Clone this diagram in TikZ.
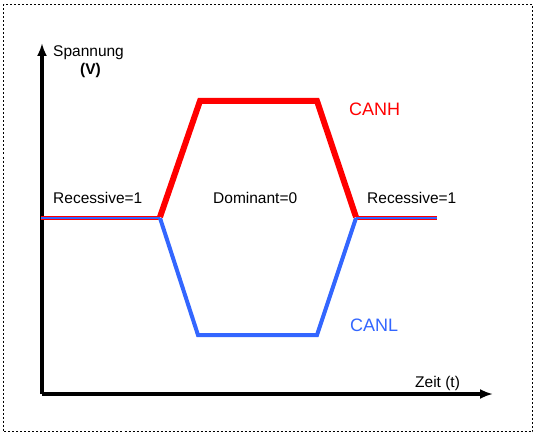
\documentclass[tikz,border=0pt]{standalone}
\usepackage{fontspec}
\setmainfont{Liberation Sans}
\usetikzlibrary{arrows.meta}
\definecolor{canred}{RGB}{255,0,0}
\definecolor{canblue}{RGB}{51,102,255}
\tikzset{
  lbl/.style={anchor=base west,inner sep=0pt,font=\fontsize{15.5}{18}\selectfont},
  biglbl/.style={anchor=base west,inner sep=0pt,font=\fontsize{18}{21}\selectfont},
  axis/.style={line width=3.2pt,-{Latex[length=13pt,width=10pt]}},
  high/.style={canred,line width=6pt,line join=miter},
  low/.style={canblue,line width=4pt,line join=miter},
}
\begin{document}
\begin{tikzpicture}[x=1pt,y=-1pt]
\useasboundingbox (0,0) rectangle (536,436);
\draw[dash pattern=on 2pt off 2pt,line width=1pt] (3.5,4.5) rectangle (532.5,431.5);
% axes
\coordinate (O) at (42,394);
\coordinate (ytip) at (42,43);
\coordinate (xtip) at (493,394);
\draw[axis] (O) -- (ytip);
\draw[axis] (O) -- (xtip);
% signal coordinates
\coordinate (L0) at (41,218);
\coordinate (L1) at (160,218);
\coordinate (R1) at (356,218);
\coordinate (R0) at (437,218);
\coordinate (H1) at (200,101);
\coordinate (H2) at (317,101);
\coordinate (B1) at (198,335);
\coordinate (B2) at (317,335);
% recessive lines
\draw[canred,line width=4pt] (L0) -- (L1);
\draw[canblue,line width=2pt] ([yshift=-0.4pt]L0) -- ([yshift=-0.4pt]L1);
\draw[canred,line width=4pt] (R1) -- (R0);
\draw[canblue,line width=2pt] ([yshift=-0.4pt]R1) -- ([yshift=-0.4pt]R0);
% CANL and CANH
\draw[low] (L1) -- (B1) -- (B2) -- (R1);
\draw[high] ([yshift=1pt]L1) -- (H1) -- (H2) -- ([yshift=1pt]R1);
% labels
\node[lbl] (spannung) at (53,56.5) {Spannung};
\node[lbl,font=\fontsize{15.5}{18}\selectfont\bfseries] (volt) at (80,75) {(V)};
\node[lbl] (recl) at (53,203) {Recessive=1};
\node[lbl] (dom) at (213,203) {Dominant=0};
\node[lbl] (recr) at (367,203) {Recessive=1};
\node[biglbl,text=canred] (canh) at (349,115) {CANH};
\node[biglbl,text=canblue] (canl) at (350,331) {CANL};
\node[lbl] (zeit) at (415,387) {Zeit (t)};
\end{tikzpicture}
\end{document}
